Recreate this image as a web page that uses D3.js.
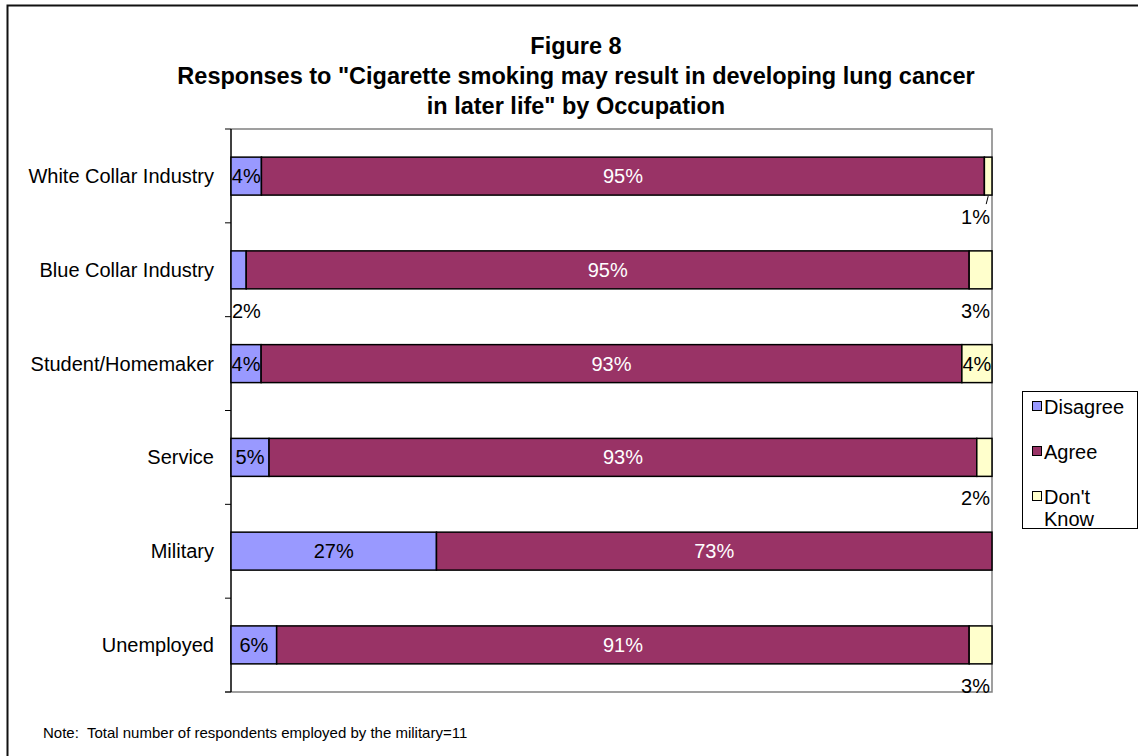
<!DOCTYPE html>
<html>
<head>
<meta charset="utf-8">
<script src="https://cdn.jsdelivr.net/npm/d3@7"></script>
<style>
  body { margin: 0; background: #fff; }
  svg { font-family: "Liberation Sans", Arial, sans-serif; }
</style>
</head>
<body>
<div class="chart"></div>
<script>
  const categories = ['White Collar Industry', 'Blue Collar Industry', 'Student/Homemaker', 'Service', 'Military', 'Unemployed'];
  const seriesNames = ['Disagree', 'Agree', "Don't Know"];
  const disagree = [4, 2, 4, 5, 27, 6];
  const agree = [95, 95, 93, 93, 73, 91];
  const dontKnow = [1, 3, 4, 2, 0, 3];
  const titleLines = ['Figure 8', 'Responses to "Cigarette smoking may result in developing lung cancer', 'in later life" by Occupation'];
  const note = 'Note:  Total number of respondents employed by the military=11';

  const config = {
    width: 1138,
    height: 756,
    left: 231,
    right: 992,
    top: 129,
    bottom: 692,
    colors: ['#9999ff', '#993366', '#ffffcc']
  };

  const rows = categories.map((c, i) => ({
    category: c,
    Disagree: disagree[i],
    Agree: agree[i],
    "Don't Know": dontKnow[i]
  }));

  const stacked = d3.stack()
    .keys(seriesNames)
    .offset(d3.stackOffsetExpand)(rows);

  const svg = d3.select('.chart').append('svg')
    .attr('width', config.width)
    .attr('height', config.height);

  // outer frame
  svg.append('rect')
    .attr('x', 7.5).attr('y', 5.5)
    .attr('width', 1200).attr('height', 800)
    .attr('fill', 'none').attr('stroke', '#111').attr('stroke-width', 2);

  const title = svg.append('text')
    .attr('text-anchor', 'middle')
    .attr('font-weight', 'bold')
    .attr('font-size', 23.5);
  titleLines.forEach((t, i) => {
    title.append('tspan').attr('x', 576).attr('y', 54 + i * 30).text(t);
  });

  const x = d3.scaleLinear().domain([0, 1]).range([config.left, config.right]);
  const y = d3.scaleBand().domain(categories).range([config.top, config.bottom])
    .paddingInner(0.595).paddingOuter(0.3);

  // plot border (gray)
  svg.append('path')
    .attr('d', `M${config.left},${config.top}H${config.right}V${config.bottom}H${config.left - 6}`)
    .attr('fill', 'none').attr('stroke', '#808080').attr('stroke-width', 1.5);

  // left axis with ticks between categories
  const step = (config.bottom - config.top) / categories.length;
  const tickPos = d3.range(categories.length + 1).map(i => config.top + i * step);
  svg.append('line')
    .attr('x1', config.left).attr('x2', config.left)
    .attr('y1', config.top).attr('y2', config.bottom)
    .attr('stroke', '#000').attr('stroke-width', 1.5);
  svg.selectAll('.tick').data(tickPos).enter().append('line')
    .attr('x1', config.left - 6).attr('x2', config.left)
    .attr('y1', d => d).attr('y2', d => d)
    .attr('stroke', '#000').attr('stroke-width', 1);

  svg.selectAll('.cat').data(categories).enter().append('text')
    .attr('x', 214)
    .attr('y', d => y(d) + y.bandwidth() / 2 + 7)
    .attr('text-anchor', 'end')
    .attr('font-size', 20)
    .text(d => d);

  const groups = svg.selectAll('.series').data(stacked).enter().append('g')
    .attr('fill', (d, i) => config.colors[i]);

  groups.selectAll('rect').data(d => d).enter().append('rect')
    .attr('x', d => x(d[0]))
    .attr('y', d => y(d.data.category))
    .attr('width', d => x(d[1]) - x(d[0]))
    .attr('height', y.bandwidth())
    .attr('stroke', d => d[1] > d[0] ? '#000' : 'none')
    .attr('stroke-width', 1.5);

  // labels
  stacked.forEach((series, si) => {
    series.forEach(d => {
      const val = d.data[series.key];
      if (!val) return;
      const x0 = x(d[0]);
      const x1 = x(d[1]);
      const yb = y(d.data.category);
      const inside = (x1 - x0) >= 26;
      let tx, ty, anchor;
      if (inside) {
        tx = (x0 + x1) / 2; ty = yb + y.bandwidth() / 2 + 7; anchor = 'middle';
      } else {
        ty = yb + y.bandwidth() + 29;
        if (si === 0) { tx = config.left + 1; anchor = 'start'; }
        else { tx = config.right - 2; anchor = 'end'; }
        if (x1 - x0 < 10 && si === seriesNames.length - 1) {
          svg.append('line')
            .attr('x1', (x0 + x1) / 2).attr('x2', (x0 + x1) / 2 - 2)
            .attr('y1', yb + y.bandwidth() + 1).attr('y2', yb + y.bandwidth() + 9)
            .attr('stroke', '#000').attr('stroke-width', 1);
        }
      }
      svg.append('text')
        .attr('x', tx).attr('y', ty)
        .attr('text-anchor', anchor)
        .attr('font-size', 20)
        .attr('fill', si === 0 || si === 2 ? '#000' : '#fff')
        .text(val + '%');
    });
  });

  // legend
  const legend = svg.append('g').attr('transform', 'translate(1022,391)');
  legend.append('rect')
    .attr('x', 0.5).attr('y', 0.5).attr('width', 115).attr('height', 137)
    .attr('fill', '#fff').attr('stroke', '#000').attr('stroke-width', 1);
  seriesNames.forEach((name, i) => {
    const g = legend.append('g').attr('transform', `translate(10,${10 + i * 45})`);
    g.append('rect').attr('x', 0.5).attr('y', 0.5).attr('width', 9).attr('height', 9)
      .attr('fill', config.colors[i]).attr('stroke', '#000').attr('stroke-width', 1);
    const words = name === "Don't Know" ? ["Don't", 'Know'] : [name];
    words.forEach((w, j) => {
      g.append('text')
        .attr('x', 12).attr('y', 13 + j * 22)
        .attr('font-size', 20).text(w);
    });
  });

  svg.append('text')
    .attr('x', 43).attr('y', 738)
    .attr('font-size', 15)
    .attr('xml:space', 'preserve')
    .style('white-space', 'pre')
    .text(note);
</script>
</body>
</html>
